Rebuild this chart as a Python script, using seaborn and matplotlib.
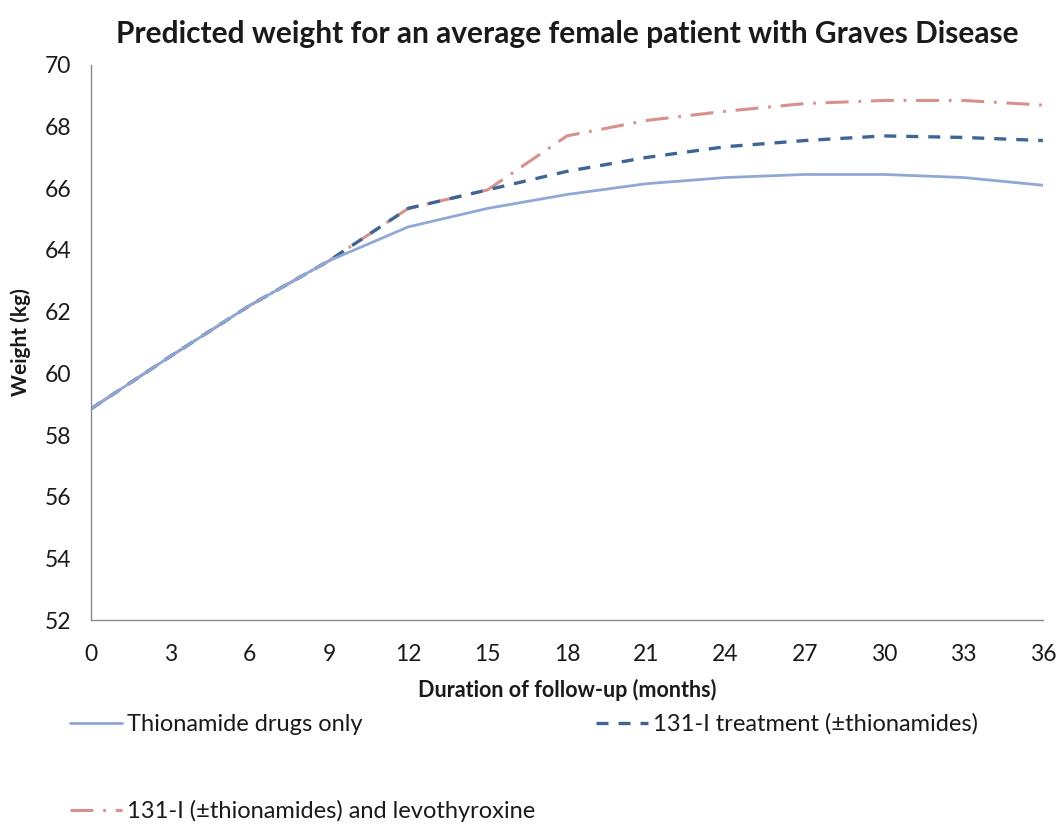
import numpy as np
import pandas as pd
import matplotlib
matplotlib.use("Agg")
import matplotlib.pyplot as plt
import seaborn as sns

# Follow-up time (months) and predicted weight (kg) for each treatment group
months = [0, 3, 6, 9, 12, 15, 18, 21, 24, 27, 30, 33, 36]
thionamide = [58.85, 60.55, 62.2, 63.65, 64.75, 65.35, 65.8, 66.15, 66.35, 66.45, 66.45, 66.35, 66.1]
radioiodine = [58.85, 60.55, 62.2, 63.65, 65.35, 65.95, 66.55, 67.0, 67.35, 67.55, 67.7, 67.65, 67.55]
radioiodine_levo = [58.85, 60.55, 62.2, 63.65, 65.35, 65.95, 67.7, 68.2, 68.5, 68.75, 68.85, 68.85, 68.7]

labels = ["Thionamide drugs only",
          "131-I treatment (\u00b1thionamides)",
          "131-I (\u00b1thionamides) and levothyroxine"]
xticks = list(range(0, 37, 3))
yticks = list(range(52, 71, 2))

sns.set_theme(style="white")
plt.rcParams["font.family"] = ["Lato", "DejaVu Sans"]

fig = plt.figure(figsize=(10.62, 8.30), dpi=100)
ax = fig.add_axes([0.0857, 0.253, 0.8963, 0.6687])

colors = ["#8fa8d6", "#3f6596", "#d9908c"]
styles = [dict(linestyle="-"),
          dict(dashes=(3.6, 3.0)),
          dict(dashes=(7.5, 3.2, 0.9, 3.2))]
widths = [2.0, 2.4, 2.2]
series = [thionamide, radioiodine, radioiodine_levo]

# draw the levothyroxine curve first so the other two sit on top where they overlap
handles = [None, None, None]
for i in [2, 1, 0]:
    df = pd.DataFrame({"month": months, "weight": series[i]})
    sns.lineplot(data=df, x="month", y="weight", ax=ax, color=colors[i],
                 linewidth=widths[i], label=labels[i], legend=False, **styles[i])
    handles[i] = ax.lines[-1]

ax.set_xlim(0, 36)
ax.set_ylim(52, 70)
ax.set_xticks(xticks)
ax.set_yticks(yticks)
ax.tick_params(axis="both", which="major", labelsize=16.5, length=8, width=1,
               color="#8c8c8c", direction="out", pad=6, labelcolor="#1a1a1a")
ax.tick_params(axis="x", pad=9)
for side in ["top", "right"]:
    ax.spines[side].set_visible(False)
for side in ["left", "bottom"]:
    ax.spines[side].set_color("#8c8c8c")
    ax.spines[side].set_linewidth(1)

ax.set_xlabel("Duration of follow-up (months)", fontsize=15.5, fontweight="bold",
              color="#1a1a1a", labelpad=10)
ax.set_ylabel("Weight (kg)", fontsize=15, fontweight="bold", color="#1a1a1a", labelpad=10)
ax.set_title("Predicted weight for an average female patient with Graves Disease",
             fontsize=21.5, fontweight="bold", color="#1a1a1a", pad=16)

leg = fig.legend([handles[0], handles[2], handles[1]],
                 [labels[0], labels[2], labels[1]],
                 ncol=2, loc="upper left", bbox_to_anchor=(0.046, 0.166),
                 frameon=False, fontsize=17, handlelength=2.2, handletextpad=0.2,
                 labelspacing=2.75, columnspacing=2.6, labelcolor="#1a1a1a")

fig.savefig("out.png", dpi=100, facecolor="white")
